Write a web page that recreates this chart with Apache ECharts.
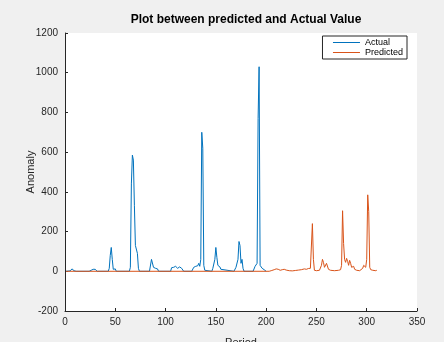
<!DOCTYPE html>
<html>
<head>
<meta charset="utf-8">
<script src="https://cdn.jsdelivr.net/npm/echarts@6/dist/echarts.min.js"></script>
<style>
  html, body { margin: 0; padding: 0; background: #f0f0f0; }
  #chart { width: 444px; height: 342px; }
</style>
</head>
<body>
<div id="chart"></div>
<script>
// actual anomaly (period, value)
var actualPeriod = [1, 5, 7, 8, 9, 11, 24, 26, 28, 29, 30, 31, 32, 43, 44, 45, 46, 47, 48, 49, 50, 51,
  64, 65, 66, 67, 68, 69, 70, 71, 72, 73, 74, 84, 85, 86, 87, 88, 89, 90, 91, 92, 93,
  105, 106, 107, 108, 110, 112, 114, 115, 116, 117, 118, 126, 127, 128, 130, 132, 133, 134, 135, 136, 137, 138, 139, 140,
  146, 147, 148, 149, 150, 151, 152, 153, 154, 155, 156, 168, 169, 170, 171, 172, 173, 174, 175, 176, 177, 178,
  187, 188, 189, 190, 191, 192, 193, 194, 195, 196, 197, 198, 199, 200];
var actualValue = [0, 2, 12, 10, 3, 0, 0, 5, 10, 8, 10, 4, 0, 0, 15, 80, 120, 60, 10, 0, 12, 0,
  0, 20, 440, 585, 560, 330, 130, 120, 90, 15, 0, 0, 10, 60, 50, 20, 10, 15, 5, 12, 0,
  0, 18, 22, 20, 25, 15, 22, 28, 15, 5, 0, 0, 8, 20, 25, 28, 40, 25, 60, 700, 620, 30, 5, 0,
  0, 15, 20, 60, 120, 70, 30, 20, 22, 10, 0, 0, 10, 20, 25, 60, 150, 130, 40, 60, 15, 0,
  0, 10, 25, 20, 40, 770, 1030, 30, 25, 15, 20, 8, 3, 0];

// predicted anomaly (period, value)
var predictedPeriod = [1, 203, 205, 208, 210, 212, 214, 216, 218, 220, 223, 226, 229, 232, 235, 238, 240, 242, 244, 245,
  246, 247, 248, 250, 253, 255, 256, 257, 258, 259, 260, 261, 262, 264, 268, 272, 274, 275, 276, 277, 278, 279,
  280, 281, 282, 283, 284, 285, 287, 288, 290, 293, 296, 297, 298, 299, 300, 301, 302, 303, 304, 306, 309, 310];
var predictedValue = [0, 0, 3, 8, 12, 10, 5, 8, 10, 6, 3, 2, 4, 6, 8, 12, 10, 14, 15, 10,
  240, 60, 5, 3, 5, 30, 60, 45, 20, 25, 40, 30, 10, 5, 3, 5, 8, 30, 305, 140, 60, 45,
  65, 50, 30, 55, 40, 20, 25, 10, 5, 3, 15, 30, 25, 20, 60, 385, 300, 20, 8, 5, 3, 5];

var blue = '#0072BD';
var orange = '#D95319';

function pairs(xs, ys) {
  return xs.map(function (x, i) { return [x, ys[i]]; });
}

var chart = echarts.init(document.getElementById('chart'));
var axisColor = '#262626';
var font = '"Liberation Sans", Arial, sans-serif';

var option = {
  backgroundColor: '#f0f0f0',
  animation: false,
  title: {
    text: 'Plot between predicted and Actual Value',
    left: 241,
    textAlign: 'center',
    top: 9,
    textStyle: { fontFamily: font, fontSize: 12, fontWeight: 'bold', color: '#000' }
  },
  legend: {
    orient: 'vertical',
    right: 37,
    top: 36,
    backgroundColor: '#fff',
    borderColor: axisColor,
    borderWidth: 1,
    borderRadius: 0,
    padding: [2, 4, 2, 10],
    itemGap: 1,
    itemWidth: 27,
    itemHeight: 8,
    itemStyle: { opacity: 0 },
    lineStyle: { width: 1 },
    textStyle: { fontFamily: font, fontSize: 9, color: '#000' },
    data: ['Actual', 'Predicted']
  },
  grid: {
    left: 65, right: 27, top: 33, bottom: 31,
    outerBoundsMode: 'none',
    show: true, backgroundColor: '#fff', borderWidth: 0
  },
  xAxis: {
    type: 'value',
    min: 0, max: 350, interval: 50,
    name: 'Period',
    nameLocation: 'middle',
    nameGap: 26,
    nameMoveOverlap: false,
    nameTextStyle: { fontFamily: font, fontSize: 11, color: axisColor },
    axisLine: { onZero: false, lineStyle: { color: axisColor, width: 1 } },
    axisTick: { inside: true, length: 3, lineStyle: { color: axisColor } },
    axisLabel: { fontFamily: font, fontSize: 10, color: axisColor, margin: 6 },
    splitLine: { show: false }
  },
  yAxis: {
    type: 'value',
    min: -200, max: 1200, interval: 200,
    name: 'Anomaly',
    nameLocation: 'middle',
    nameGap: 29,
    nameMoveOverlap: false,
    nameTextStyle: { fontFamily: font, fontSize: 11, color: axisColor },
    axisLine: { show: true, onZero: false, lineStyle: { color: axisColor, width: 1 } },
    axisTick: { show: true, inside: true, length: 3, lineStyle: { color: axisColor } },
    axisLabel: {
      fontFamily: font, fontSize: 10, color: axisColor, margin: 7,
      formatter: function (v) { return String(v); }
    },
    splitLine: { show: false }
  },
  series: [
    {
      name: 'Actual',
      type: 'line',
      symbol: 'none',
      color: blue,
      lineStyle: { width: 1 },
      data: pairs(actualPeriod, actualValue)
    },
    {
      name: 'Predicted',
      type: 'line',
      symbol: 'none',
      color: orange,
      lineStyle: { width: 1 },
      data: pairs(predictedPeriod, predictedValue)
    }
  ]
};

chart.setOption(option);
</script>
</body>
</html>
